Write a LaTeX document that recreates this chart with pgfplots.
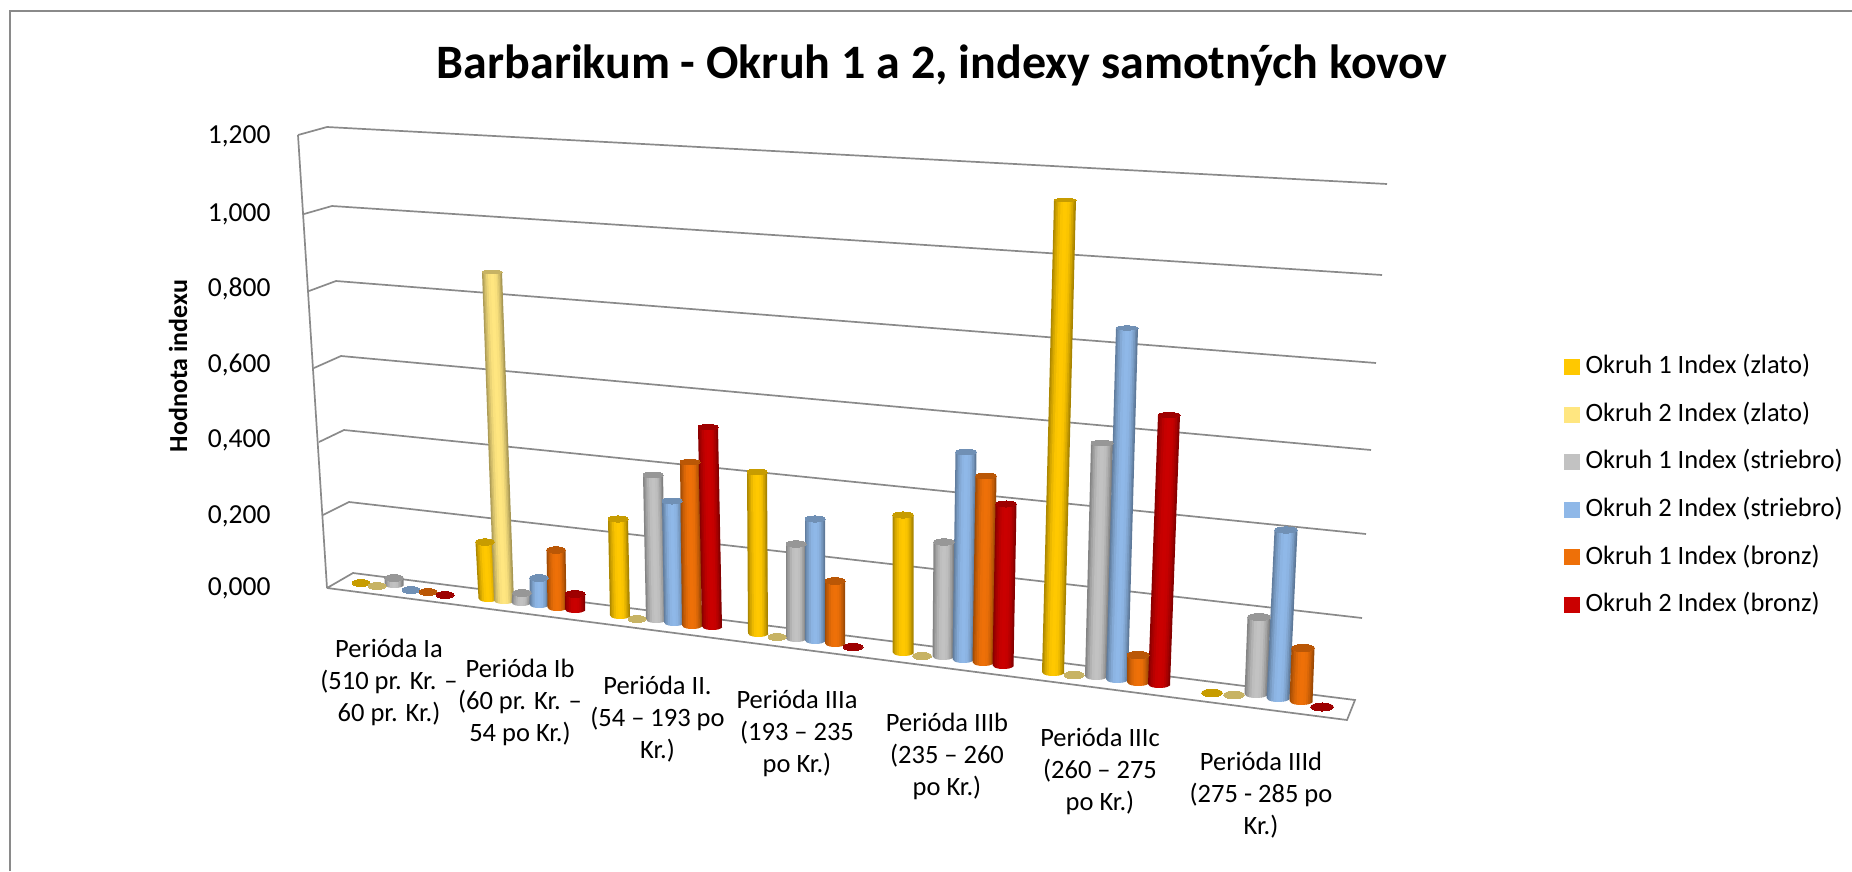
\documentclass[border=0pt]{standalone}
\usepackage{pgfplots}
\pgfplotsset{compat=1.18}
\usepackage{fontspec}
\setmainfont{Carlito}
\definecolor{cGold}{HTML}{FFC800}
\definecolor{cLight}{HTML}{FFE680}
\definecolor{cGrey}{HTML}{C2C2C2}
\definecolor{cBlue}{HTML}{8FB8E8}
\definecolor{cOrange}{HTML}{EE7008}
\definecolor{cRed}{HTML}{CA0000}
\definecolor{gridc}{HTML}{8A8A8A}
% one vertical slice of a cylinder, between fractions #1 and #2 of its width
\newcommand\slice[3]{%
  \pgfmathsetmacro\ax{\bx+\bw*(#1-0.5)}%
  \pgfmathsetmacro\bbx{\bx+\bw*(#2+0.03-0.5)}%
  \pgfmathsetmacro\atx{\tx+\bw*(#1-0.5)}%
  \pgfmathsetmacro\btx{\tx+\bw*(#2+0.03-0.5)}%
  \pgfmathsetmacro\ay{\by+\bh*sqrt(max(0,1-(2*#1-1)^2))}%
  \pgfmathsetmacro\bby{\by+\bh*sqrt(max(0,1-(2*min(#2,1)-1)^2))}%
  \edef\temp{\noexpand\addplot[forget plot,draw=none,fill=\cc!#3!black]
    coordinates {(\atx,\ty)(\btx,\ty)(\bbx,\bby)(\ax,\ay)} --cycle;}\temp}
% top x, top y, base x, lowest y of the base, diameter, colour
\newcommand\cyl[6]{%
  \def\tx{#1}\def\ty{#2}\def\bx{#3}\def\bw{#5}\def\cc{#6}%
  \pgfmathsetmacro\bh{1+0.005*(#4-100)}%
  \pgfmathsetmacro\by{#4-\bh}%
  \slice{0}{.06}{68}\slice{.06}{.12}{76}\slice{.12}{.2}{84}\slice{.2}{.3}{92}%
  \slice{.3}{.42}{98}\slice{.42}{.6}{100}\slice{.6}{.72}{98}\slice{.72}{.8}{92}%
  \slice{.8}{.88}{84}\slice{.88}{.94}{74}\slice{.94}{.97}{66}%
  \pgfmathsetmacro\toph{1+0.005*(#2-100)}%
  \pgfmathsetmacro\sc{\toph/(#5/2)}%
  \edef\temp{\noexpand\addplot[forget plot,only marks,mark=*,mark size={#5/2},
    color=#6!78!black,line width=0pt,mark options={yscale=\sc}] coordinates {(#1,#2)};}\temp}
% a bar of value zero: only a flat disc
\newcommand\disc[4]{%
  \pgfmathsetmacro\sc{(1+0.005*(#2-100))/(#3/2)}%
  \edef\temp{\noexpand\addplot[forget plot,only marks,mark=*,mark size={#3/2},
    color=#4!78!black,line width=0pt,mark options={yscale=\sc}] coordinates {(#1,#2)};}\temp}
\begin{document}
\begin{tikzpicture}
\useasboundingbox (0pt,0pt) rectangle (1852pt,871pt);
\begin{axis}[
  at={(0pt,0pt)},anchor=south west,
  width=1852pt,height=871pt,scale only axis,
  xmin=0,xmax=1852,ymin=0,ymax=871,y dir=reverse,
  hide axis,clip=false,
  legend style={at={(axis cs:1564,358.5)},anchor=north west,draw=none,fill=none,
    font=\fontsize{26.5}{29}\selectfont,row sep=27.6pt,inner sep=0pt,
    nodes={inner xsep=6pt,inner ysep=0pt,anchor=west,text height=15pt,text depth=5pt}},
  legend cell align=left,
  legend image code/.code={\fill[#1] (0pt,-5.5pt) rectangle (15pt,9.5pt);},
]
% frame
\addplot[forget plot,color=gridc,line width=2.5pt] coordinates {(10,871)(10,11)(1852,11)};
% legend entries
\addlegendimage{color=cGold}\addlegendentry{Okruh 1 Index (zlato)}
\addlegendimage{color=cLight}\addlegendentry{Okruh 2 Index (zlato)}
\addlegendimage{color=cGrey}\addlegendentry{Okruh 1 Index (striebro)}
\addlegendimage{color=cBlue}\addlegendentry{Okruh 2 Index (striebro)}
\addlegendimage{color=cOrange}\addlegendentry{Okruh 1 Index (bronz)}
\addlegendimage{color=cRed}\addlegendentry{Okruh 2 Index (bronz)}
% walls
\addplot[forget plot,color=gridc,line width=1.7pt] coordinates {(298,135)(327,588)};
\addplot[forget plot,color=gridc,line width=1.7pt] coordinates {(298,135)(327,127)(1387,184)};
\addplot[forget plot,color=gridc,line width=1.7pt] coordinates {(304,214)(332,206)(1382,275)};
\addplot[forget plot,color=gridc,line width=1.7pt] coordinates {(309,291)(336,281)(1376,363)};
\addplot[forget plot,color=gridc,line width=1.7pt] coordinates {(314,368)(341,356)(1371,450)};
\addplot[forget plot,color=gridc,line width=1.7pt] coordinates {(319,442)(344,430)(1366,534)};
\addplot[forget plot,color=gridc,line width=1.7pt] coordinates {(323,515)(349,502)(1362,618)};
\addplot[forget plot,color=gridc,line width=1.7pt] coordinates {(327,588)(353,573)(1355,700)(1347,720)(327,588)};
% Perioda Ia
\disc{361}{583}{18}{cGold}\disc{377}{586}{18}{cLight}
\cyl{394}{578}{394}{588}{19}{cGrey}
\disc{411}{590}{18}{cBlue}\disc{428}{592}{18}{cOrange}\disc{445}{595}{18}{cRed}
% Perioda Ib
\cyl{485}{542}{488}{602}{19}{cGold}
\cyl{492}{272}{504}{604}{20}{cLight}
\cyl{522}{593}{521}{606}{19}{cGrey}
\cyl{539}{578}{539}{608}{19}{cBlue}
\cyl{556}{550}{557}{611}{19}{cOrange}
\cyl{575}{594}{575}{613}{20}{cRed}
% Perioda II
\cyl{618}{519}{620}{619}{20}{cGold}
\disc{637}{619}{18}{cLight}
\cyl{653}{475}{656}{623}{20}{cGrey}
\cyl{672}{501}{674}{626}{20}{cBlue}
\cyl{690}{462}{692}{629}{20}{cOrange}
\cyl{708}{427}{712}{630}{20}{cRed}
% Perioda IIIa
\cyl{757}{472}{758}{637}{20}{cGold}
\disc{777}{637}{18}{cLight}
\cyl{796}{544}{796}{642}{20}{cGrey}
\cyl{815}{519}{815}{644}{20}{cBlue}
\cyl{835}{581}{835}{647}{20}{cOrange}
\disc{853}{647}{20}{cRed}
% Perioda IIIb
\cyl{903}{515}{903}{656}{21}{cGold}
\disc{922}{656}{19}{cLight}
\cyl{944}{542}{943}{660}{21}{cGrey}
\cyl{966}{452}{963}{663}{21}{cBlue}
\cyl{986}{476}{983}{666}{21}{cOrange}
\cyl{1006}{504}{1003}{669}{21}{cRed}
% Perioda IIIc
\cyl{1065}{200}{1053}{676}{22}{cGold}
\disc{1074}{675}{20}{cLight}
\cyl{1102}{443}{1096}{680}{22}{cGrey}
\cyl{1127}{328}{1117}{683}{22}{cBlue}
\cyl{1138}{655}{1138}{686}{22}{cOrange}
\cyl{1169}{415}{1159}{688}{22}{cRed}
% Perioda IIId
\disc{1212}{693}{21}{cGold}\disc{1234}{695}{21}{cLight}
\cyl{1259}{617}{1256}{698}{23}{cGrey}
\cyl{1286}{530}{1278}{702}{23}{cBlue}
\cyl{1303}{648}{1301}{705}{23}{cOrange}
\disc{1322}{707}{23}{cRed}
% texts
\node[font=\fontsize{48}{52}\selectfont\bfseries] at (axis cs:942,65) {Barbarikum - Okruh 1 a 2, indexy samotných kovov};
\node[font=\fontsize{26}{28}\selectfont\bfseries,rotate=90] at (axis cs:178,366) {Hodnota indexu};
\node[anchor=east,font=\fontsize{27.5}{30}\selectfont] at (axis cs:274,136) {1,200};
\node[anchor=east,font=\fontsize{27.5}{30}\selectfont] at (axis cs:274,214) {1,000};
\node[anchor=east,font=\fontsize{27.5}{30}\selectfont] at (axis cs:274,289) {0,800};
\node[anchor=east,font=\fontsize{27.5}{30}\selectfont] at (axis cs:274,365) {0,600};
\node[anchor=east,font=\fontsize{27.5}{30}\selectfont] at (axis cs:274,440) {0,400};
\node[anchor=east,font=\fontsize{27.5}{30}\selectfont] at (axis cs:274,516) {0,200};
\node[anchor=east,font=\fontsize{27.5}{30}\selectfont] at (axis cs:274,588) {0,000};
\tikzset{cat/.style={align=center,font=\fontsize{26.5}{32}\selectfont,anchor=north}}
\node[cat] at (axis cs:389,636) {Perióda Ia\\(510 pr. Kr. –\\60 pr. Kr.)};
\node[cat] at (axis cs:520,656) {Perióda Ib\\(60 pr. Kr. –\\54 po Kr.)};
\node[cat] at (axis cs:657.5,673) {Perióda II.\\(54 – 193 po\\Kr.)};
\node[cat] at (axis cs:797,687) {Perióda IIIa\\(193 – 235\\po Kr.)};
\node[cat] at (axis cs:947,710) {Perióda IIIb\\(235 – 260\\po Kr.)};
\node[cat] at (axis cs:1100,725) {Perióda IIIc\\(260 – 275\\po Kr.)};
\node[cat] at (axis cs:1261,749) {Perióda IIId\\(275 - 285 po\\Kr.)};
\end{axis}
\end{tikzpicture}
\end{document}
